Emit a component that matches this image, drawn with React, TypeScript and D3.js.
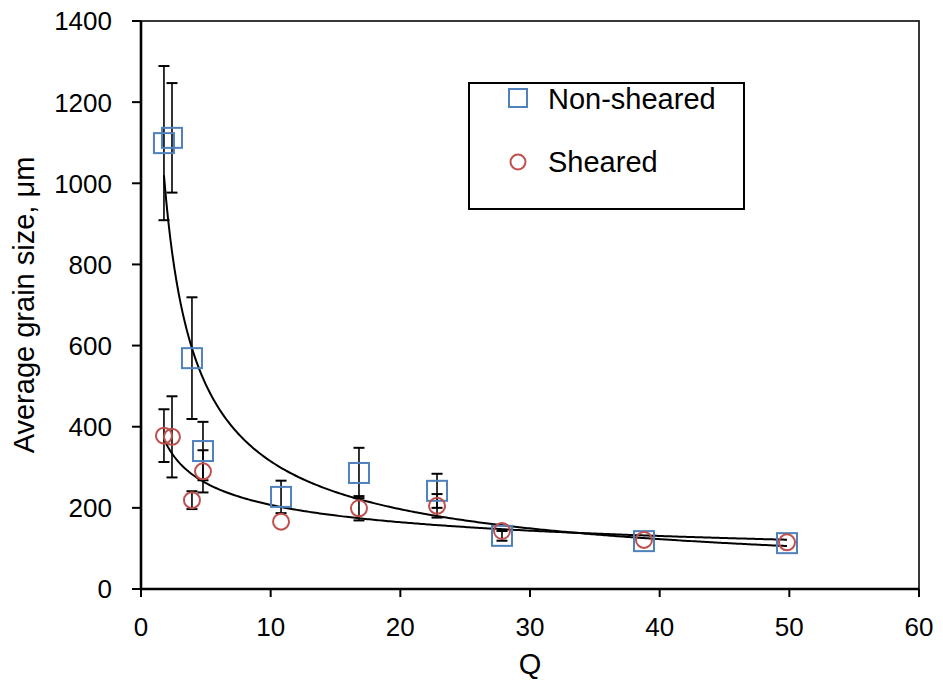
import React from "react";
import * as d3 from "d3";

// Mean grain size versus Q, for non-sheared and sheared specimens
const qValues = [1.77, 2.39, 3.93, 4.78, 10.8, 16.81, 22.83, 27.84, 38.79, 49.82];
const nonShearedSize = [1099, 1112, 569, 340, 227, 286, 242, 131, 118, 113];
const nonShearedErr = [190, 135, 150, 72, 40, 62, 42, 12, 0, 0];
const shearedSize = [378, 375, 219, 290, 166, 199, 205, 143, 121, 115];
const shearedErr = [65, 100, 22, 52, 0, 30, 29, 0, 0, 0];

const xTicks = [0, 10, 20, 30, 40, 50, 60];
const yTicks = [0, 200, 400, 600, 800, 1000, 1200, 1400];

const W = 943;
const H = 687;
const M = { left: 141, right: 919, top: 21, bottom: 589 };
const FONT = "'Liberation Sans', Arial, Helvetica, sans-serif";
const BLUE = "#4F81BD";
const RED = "#C0504D";

// Least-squares power-law trend (fit of ln y against ln x)
function powerFit(xs: number[], ys: number[]) {
  const lx = xs.map(Math.log);
  const ly = ys.map(Math.log);
  const mx = d3.mean(lx) as number;
  const my = d3.mean(ly) as number;
  let sxy = 0;
  let sxx = 0;
  lx.forEach((v, i) => {
    sxy += (v - mx) * (ly[i] - my);
    sxx += (v - mx) * (v - mx);
  });
  const b = sxy / sxx;
  const a = Math.exp(my - b * mx);
  return (x: number) => a * Math.pow(x, b);
}

export default function App() {
  const x = d3.scaleLinear().domain([0, 60]).range([M.left, M.right]);
  const y = d3.scaleLinear().domain([0, 1400]).range([M.bottom, M.top]);

  const [xMin, xMax] = d3.extent(qValues) as [number, number];
  const samples = d3.range(0, 301).map((i) => xMin + ((xMax - xMin) * i) / 300);
  const line = d3
    .line<number[]>()
    .x((d) => x(d[0]))
    .y((d) => y(d[1]));
  const fitNS = powerFit(qValues, nonShearedSize);
  const fitS = powerFit(qValues, shearedSize);
  const pathNS = line(samples.map((q) => [q, fitNS(q)])) as string;
  const pathS = line(samples.map((q) => [q, fitS(q)])) as string;

  const cap = 5.5;
  const errorBars = (vals: number[], errs: number[], key: string) =>
    qValues.map((q, i) => {
      if (!errs[i]) return null;
      const cx = x(q);
      const y1 = y(vals[i] + errs[i]);
      const y2 = y(vals[i] - errs[i]);
      return (
        <g key={`${key}${i}`} stroke="#000" strokeWidth={1.6}>
          <line x1={cx} x2={cx} y1={y1} y2={y2} />
          <line x1={cx - cap} x2={cx + cap} y1={y1} y2={y1} strokeWidth={2} />
          <line x1={cx - cap} x2={cx + cap} y1={y2} y2={y2} strokeWidth={2} />
        </g>
      );
    });

  const sq = 20;

  return (
    <div style={{ position: "absolute", left: 0, top: 0 }}>
      <svg width={W} height={H} style={{ display: "block", background: "#fff" }} fontFamily={FONT}>
        {/* frame */}
        <rect
          x={M.left}
          y={M.top}
          width={M.right - M.left}
          height={M.bottom - M.top}
          fill="none"
          stroke="#222"
          strokeWidth={1.8}
        />
        {/* axes */}
        <line x1={M.left} x2={M.left} y1={M.top} y2={M.bottom} stroke="#000" strokeWidth={2.6} />
        <line x1={M.left} x2={M.right} y1={M.bottom} y2={M.bottom} stroke="#000" strokeWidth={2.6} />

        {yTicks.map((t) => (
          <g key={`y${t}`}>
            <line x1={M.left - 9} x2={M.left} y1={y(t)} y2={y(t)} stroke="#000" strokeWidth={2} />
            <text x={112} y={y(t)} dy="0.36em" textAnchor="end" fontSize={26} fill="#000">
              {t}
            </text>
          </g>
        ))}
        {xTicks.map((t) => (
          <g key={`x${t}`}>
            <line x1={x(t)} x2={x(t)} y1={M.bottom} y2={M.bottom + 8} stroke="#000" strokeWidth={2} />
            <text x={x(t)} y={636} textAnchor="middle" fontSize={26} fill="#000">
              {t}
            </text>
          </g>
        ))}

        <text x={(M.left + M.right) / 2} y={674} textAnchor="middle" fontSize={29} fill="#000">
          Q
        </text>
        <text
          transform={`translate(34, 305) rotate(-90)`}
          textAnchor="middle"
          fontSize={29}
          fill="#000"
        >
          Average grain size, μm
        </text>

        {/* error bars */}
        {errorBars(nonShearedSize, nonShearedErr, "ens")}
        {errorBars(shearedSize, shearedErr, "es")}

        {/* power-law trend lines */}
        <path d={pathNS} fill="none" stroke="#000" strokeWidth={2} />
        <path d={pathS} fill="none" stroke="#000" strokeWidth={2} />

        {/* markers */}
        {qValues.map((q, i) => (
          <rect
            key={`ns${i}`}
            x={x(q) - sq / 2}
            y={y(nonShearedSize[i]) - sq / 2}
            width={sq}
            height={sq}
            fill="none"
            stroke={BLUE}
            strokeWidth={2}
          />
        ))}
        {qValues.map((q, i) => (
          <circle
            key={`s${i}`}
            cx={x(q)}
            cy={y(shearedSize[i])}
            r={8}
            fill="none"
            stroke={RED}
            strokeWidth={2}
          />
        ))}

        {/* legend */}
        <rect x={469} y={83} width={275} height={126} fill="#fff" stroke="#000" strokeWidth={2} />
        <rect x={518 - 9} y={98 - 9} width={18} height={18} fill="none" stroke={BLUE} strokeWidth={2} />
        <text x={548} y={109} fontSize={29} fill="#000">
          Non-sheared
        </text>
        <circle cx={518} cy={162} r={7.5} fill="none" stroke={RED} strokeWidth={2} />
        <text x={548} y={172} fontSize={29} fill="#000">
          Sheared
        </text>
      </svg>
    </div>
  );
}
